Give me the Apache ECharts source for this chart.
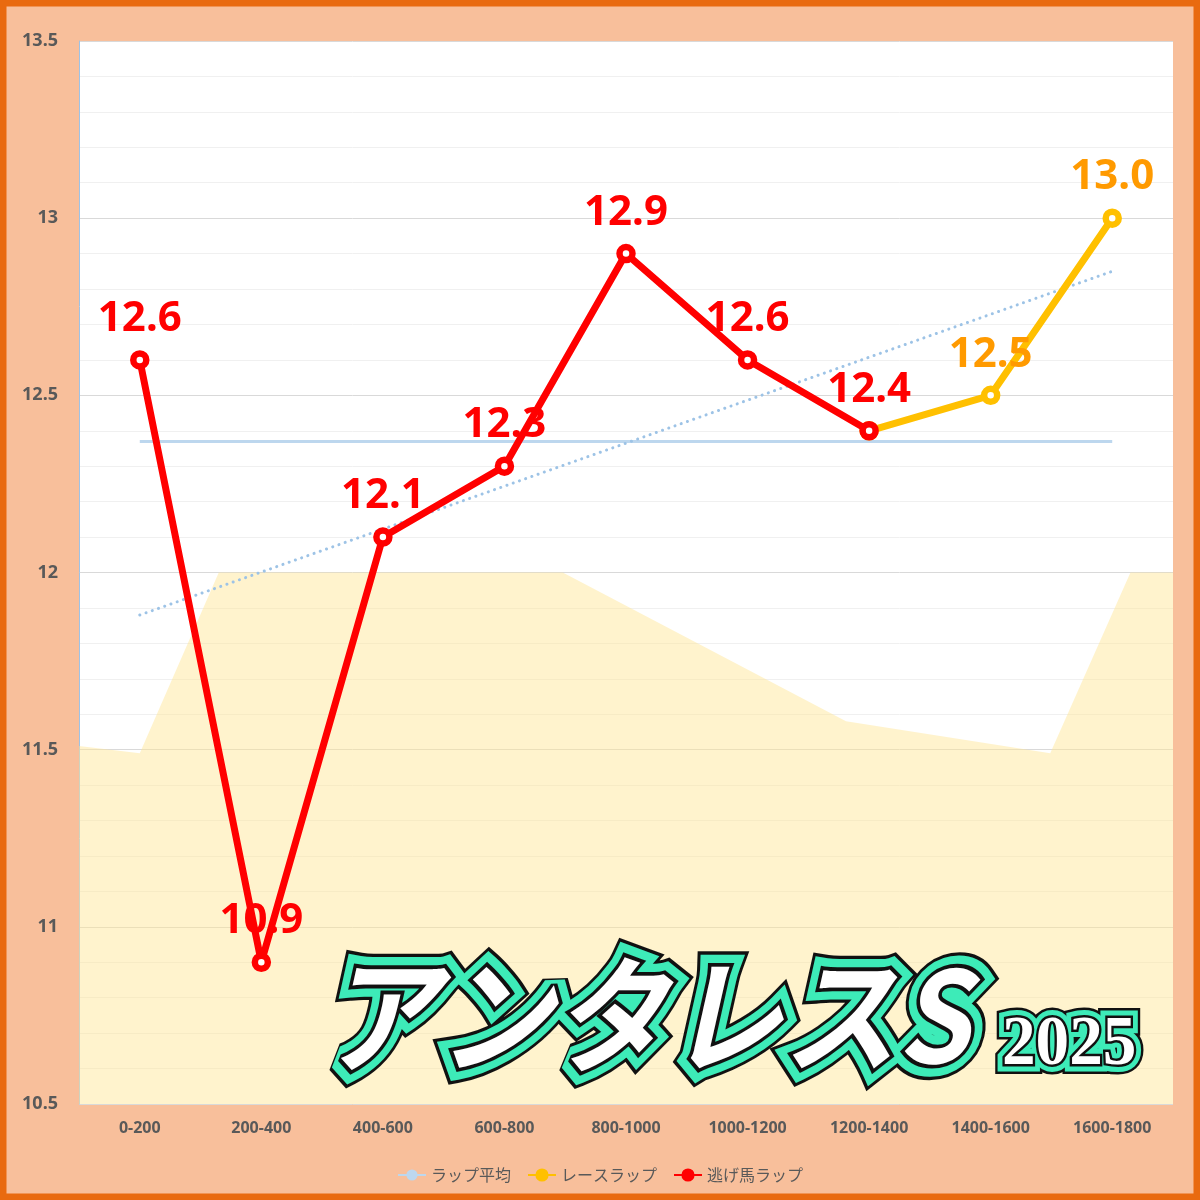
<!DOCTYPE html>
<html>
<head>
<meta charset="utf-8">
<script src="https://cdn.jsdelivr.net/npm/echarts@6/dist/echarts.min.js"></script>
<style>
html,body{margin:0;padding:0;background:#F8BF9B;}
#chart{width:1200px;height:1200px;}
</style>
</head>
<body>
<div id="chart"></div>
<script>
// ---- data ----
const categories = ['0-200','200-400','400-600','600-800','800-1000','1000-1200','1200-1400','1400-1600','1600-1800'];
const nigeLap = [12.6, 10.9, 12.1, 12.3, 12.9, 12.6, 12.4, null, null];
const raceLap = [null, null, null, null, null, null, 12.4, 12.5, 13.0];
const lapAvg = [12.37, 12.37, 12.37, 12.37, 12.37, 12.37, 12.37, 12.37, 12.37];
const trendLine = [11.88, null, null, null, null, null, null, null, 12.85];
// background decorative area: [position in category units, value]
const bgAreaX = [-0.5, 0, 0.65, 3.48, 5.81, 7.49, 8.15, 8.5];
const bgAreaY = [11.51, 11.49, 12.0, 12.0, 11.58, 11.49, 12.0, 12.0];
const yTicks = {min: 10.5, max: 13.5, interval: 0.5};
const titleMain = 'アンタレスS';
const titleYear = '2025';

const chart = echarts.init(document.getElementById('chart'), null, {renderer: 'canvas'});

function outlinedText(text, x, y, fontSize, fontFamily, fontWeight, w, scaleX, scaleY, skewX) {
  const base = {type: 'text', x: x, y: y, scaleX: scaleX, scaleY: scaleY, skewX: skewX, z: 100, silent: true};
  const st = {text: text, fontSize: fontSize, fontFamily: fontFamily, fontWeight: fontWeight,
    textAlign: 'left', textVerticalAlign: 'middle', lineJoin: 'round'};
  return [
    Object.assign({}, base, {style: Object.assign({}, st, {fill: '#111', stroke: '#111', lineWidth: w[0]})}),
    Object.assign({}, base, {style: Object.assign({}, st, {fill: '#3DEBB8', stroke: '#3DEBB8', lineWidth: w[1]})}),
    Object.assign({}, base, {style: Object.assign({}, st, {fill: '#111', stroke: '#111', lineWidth: w[2]})}),
    Object.assign({}, base, {style: Object.assign({}, st, {fill: '#ffffff'})})
  ];
}

const fmt1 = p => (p.value == null ? '' : Number(p.value).toFixed(1));
const redLabel = {show: true, position: 'top', distance: 10, color: '#FF0000', fontSize: 42,
  fontWeight: 'bold', fontFamily: 'Noto Sans', formatter: fmt1};
const orangeLabel = {show: true, position: 'top', distance: 10, color: '#FF9A00', fontSize: 42,
  fontWeight: 'bold', fontFamily: 'Noto Sans', formatter: fmt1};

const option = {
  backgroundColor: '#F8BF9B',
  animation: false,
  textStyle: {fontFamily: 'Noto Sans'},
  grid: {left: 79, right: 27, top: 41, bottom: 96, show: true, backgroundColor: '#ffffff', borderWidth: 0},
  legend: {
    data: [
      {name: 'ラップ平均'},
      {name: 'レースラップ', itemStyle: {color: '#FFC000', borderColor: '#FFC000'}},
      {name: '逃げ馬ラップ', itemStyle: {color: '#FF0000', borderColor: '#FF0000'}}
    ],
    top: 1162, left: 'center', itemGap: 16, itemWidth: 28, itemHeight: 14,
    textStyle: {color: '#595959', fontSize: 16, fontFamily: 'Noto Sans CJK JP'}
  },
  xAxis: [
    {type: 'category', data: categories, boundaryGap: true,
      axisLine: {show: false}, axisTick: {show: false},
      axisLabel: {color: '#595959', fontSize: 16, fontWeight: 'bold', margin: 16, fontFamily: 'Noto Sans'}},
    {type: 'value', min: -0.5, max: 8.5, show: false}
  ],
  yAxis: {
    type: 'value', min: yTicks.min, max: yTicks.max, interval: yTicks.interval,
    axisLine: {show: true, onZero: false, lineStyle: {color: '#9DC3E6', width: 1}},
    axisTick: {show: false},
    axisLabel: {color: '#595959', fontSize: 18, fontWeight: 'bold', margin: 21, fontFamily: 'Noto Sans'},
    splitLine: {lineStyle: {color: '#D9D9D9', width: 1}},
    minorTick: {show: false, splitNumber: 5},
    minorSplitLine: {show: true, lineStyle: {color: '#F0F0F0', width: 1}}
  },
  series: [
    {name: 'bg', type: 'line', xAxisIndex: 1, data: bgAreaX.map((x, i) => [x, bgAreaY[i]]),
      symbol: 'none', lineStyle: {width: 0}, areaStyle: {color: 'rgba(255,229,150,0.48)', opacity: 1},
      z: 1, silent: true},
    {name: 'ラップ平均', type: 'line', data: lapAvg, symbol: 'none',
      lineStyle: {color: '#BDD7EE', width: 3}, itemStyle: {color: '#BDD7EE'}, z: 2},
    {name: 'trend', type: 'line', data: trendLine, connectNulls: true, symbol: 'none',
      lineStyle: {color: '#9DC3E6', width: 3, type: [0.1, 6.5], cap: 'round'}, z: 2},
    {name: 'レースラップ', type: 'line', data: raceLap.map((v, i) => ({value: v, label: {show: i > 6}})),
      symbol: 'circle', symbolSize: 13, showAllSymbol: true,
      lineStyle: {color: '#FFC000', width: 7}, itemStyle: {color: '#ffffff', borderColor: '#FFC000', borderWidth: 6.5},
      label: orangeLabel, z: 3},
    {name: '逃げ馬ラップ', type: 'line', data: nigeLap,
      symbol: 'circle', symbolSize: 13, showAllSymbol: true,
      lineStyle: {color: '#FF0000', width: 7}, itemStyle: {color: '#ffffff', borderColor: '#FF0000', borderWidth: 6.5},
      label: redLabel, z: 4}
  ],
  graphic: [].concat(
    [{type: 'rect', shape: {x: 0, y: 0, width: 1200, height: 1200}, z: 200, silent: true,
      style: {fill: 'none', stroke: '#E96A10', lineWidth: 13}}],
    outlinedText(titleMain, 333, 1015, 115, 'Noto Sans CJK JP', 700, [28, 22, 7], 1, 1.1, -0.22),
    outlinedText(titleYear, 1002, 1046, 70, 'Liberation Serif', 'bold', [20, 15, 5], 0.96, 1, 0)
  )
};
chart.setOption(option);
</script>
</body>
</html>
